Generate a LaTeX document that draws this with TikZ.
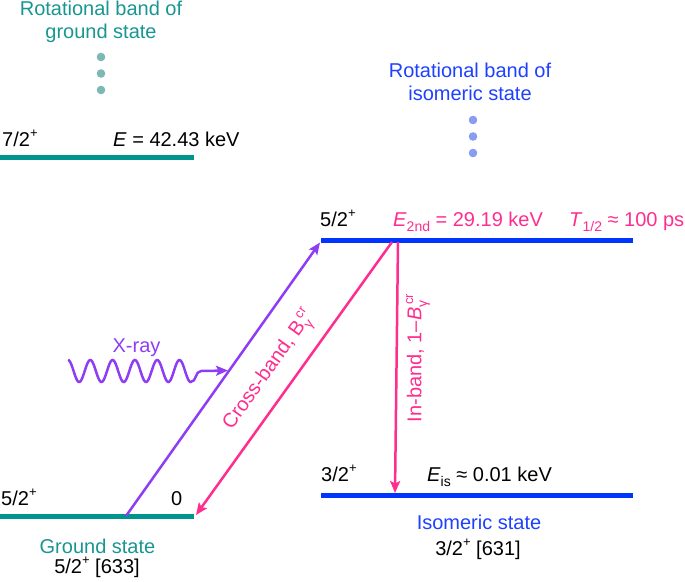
\documentclass[tikz,border=0pt]{standalone}
\usepackage{fontspec}
\setmainfont{Liberation Sans}
\usetikzlibrary{arrows.meta}
\definecolor{tealline}{RGB}{0,148,143}
\definecolor{tealtxt}{RGB}{24,150,145}
\definecolor{tealdot}{RGB}{125,184,181}
\definecolor{blueline}{RGB}{0,52,255}
\definecolor{bluetxt}{RGB}{30,64,255}
\definecolor{bluedot}{RGB}{138,155,242}
\definecolor{pinkc}{RGB}{255,45,142}
\definecolor{purpc}{RGB}{142,61,245}
\newcommand{\upsc}[1]{\raisebox{0.42em}{\fontsize{13}{13}\selectfont #1}}
\newcommand{\dnsc}[1]{\raisebox{-0.28em}{\fontsize{14}{14}\selectfont #1}}
\begin{document}
\begin{tikzpicture}[x=1pt,y=-1pt,
  lbl/.style={inner sep=0pt, font=\fontsize{20}{24}\selectfont},
  levelg/.style={line width=5pt, draw=tealline},
  levelb/.style={line width=5pt, draw=blueline},
  tipst/.style={-{Stealth[length=12pt,width=10pt,inset=2.5pt]}},
  transp/.style={line width=2.5pt, draw=purpc, tipst},
  transk/.style={line width=2.5pt, draw=pinkc, tipst},
  dotg/.style={fill=tealdot, draw=none},
  dotb/.style={fill=bluedot, draw=none}]
\useasboundingbox (0,0) rectangle (685,581);

% ground band (top)
\node[lbl, text=tealtxt, anchor=base] (rg1) at (101,15) {Rotational band of};
\node[lbl, text=tealtxt, anchor=base] (rg2) at (101,38) {ground state};
\fill[dotg] (101,57) circle (4.3);
\fill[dotg] (101,73.5) circle (4.3);
\fill[dotg] (101,90) circle (4.3);
\node[lbl, anchor=base west] (s72) at (2,146) {7/2\upsc{+}};
\node[lbl, anchor=base west] (e72) at (113,146) {\textit{E} = 42.43 keV};
\coordinate (g2L) at (0,157);
\coordinate (g2R) at (194,157);
\draw[levelg] (g2L) -- (g2R);

% isomeric band (top)
\node[lbl, text=bluetxt, anchor=base] (rb1) at (470,77) {Rotational band of};
\node[lbl, text=bluetxt, anchor=base] (rb2) at (470,100) {isomeric state};
\fill[dotb] (473,120) circle (4.3);
\fill[dotb] (473,136.5) circle (4.3);
\fill[dotb] (473,153) circle (4.3);

% 5/2+ isomeric band level
\node[lbl, anchor=base west] (s52b) at (320,226) {5/2\upsc{+}};
\node[lbl, text=pinkc, anchor=base west] (e2nd) at (393,226) {\textit{E}\dnsc{2nd} = 29.19 keV};
\node[lbl, text=pinkc, anchor=base west] (thalf) at (569,226) {\textit{T}\dnsc{1/2} ≈ 100 ps};
\coordinate (b2L) at (321,240.5);
\coordinate (b2R) at (633,240.5);
\draw[levelb] (b2L) -- (b2R);

% isomeric state level
\node[lbl, anchor=base west] (s32) at (321,481) {3/2\upsc{+}};
\node[lbl, anchor=base west] (eis) at (427,481) {\textit{E}\dnsc{is} ≈ 0.01 keV};
\coordinate (b1L) at (321,495.5);
\coordinate (b1R) at (633,495.5);
\draw[levelb] (b1L) -- (b1R);
\node[lbl, text=bluetxt, anchor=base] (iso1) at (479,529) {Isomeric state};
\node[lbl, anchor=base] (iso2) at (478,555) {3/2\upsc{+} [631]};

% ground state level
\node[lbl, anchor=base west] (s52g) at (1,505) {5/2\upsc{+}};
\node[lbl, anchor=base west] (zero) at (171,505) {0};
\coordinate (g1L) at (0,516);
\coordinate (g1R) at (194,516);
\draw[levelg] (g1L) -- (g1R);
\node[lbl, text=tealtxt, anchor=base] (gs1) at (97.5,553) {Ground state};
\node[lbl, anchor=base] (gs2) at (97,573) {5/2\upsc{+} [633]};

% transitions
\coordinate (pA) at (126,516);
\coordinate (pB) at (320,242.5);
\draw[transp] (pA) -- (pB);
\coordinate (cA) at (392,242);
\coordinate (cB) at (196,515);
\draw[transk] (cA) -- (cB);
\coordinate (iA) at (398,242);
\coordinate (iB) at (395,493);
\draw[transk] (iA) -- (iB);

\node[lbl, text=pinkc, rotate=54.6] (cross) at (270,371) {Cross-band, B\rlap{\dnsc{γ}}\upsc{\hspace{3pt}cr}};
\node[lbl, text=pinkc, rotate=90] (inband) at (418,358) {In-band, 1–\textit{B}\rlap{\dnsc{γ}}\upsc{\hspace{3pt}cr}};

% X-ray
\node[lbl, text=purpc, anchor=base] (xray) at (136.5,352) {X-ray};
\coordinate (xw) at (201,371);
\coordinate (xt) at (228,370.5);
\draw[line width=2.5pt, draw=purpc, tipst] plot[domain=0:5.5, samples=150, smooth] ({68+\x*22.3},{371-11*cos(360*\x)}) to[out=0,in=180] (xw) -- (xt);
\end{tikzpicture}
\end{document}
